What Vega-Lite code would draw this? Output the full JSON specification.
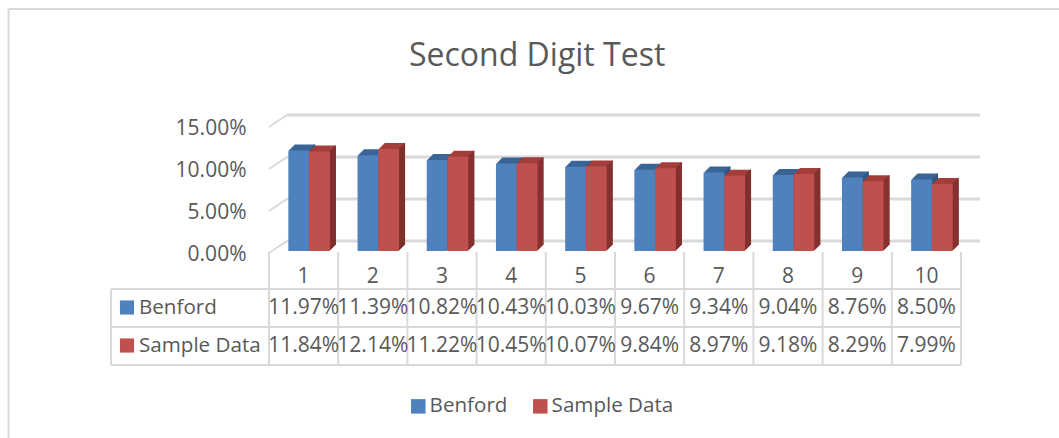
{"$schema":"https://vega.github.io/schema/vega-lite/v6.json","width":692,"height":126,"autosize":{"type":"none"},"padding":{"left":269,"top":125,"right":98,"bottom":187},"background":"white","config":{"view":{"stroke":null},"font":"Open Sans"},
"title":{"text":"Second Digit Test","anchor":"start","frame":"group","dx":140,"offset":-65,"fontSize":32,"fontWeight":"normal","font":"Open Sans","color":"#595959"},
"datasets":{"rows":[{"digit":1,"series":"Benford","value":0.1197},{"digit":2,"series":"Benford","value":0.1139},{"digit":3,"series":"Benford","value":0.1082},{"digit":4,"series":"Benford","value":0.1043},{"digit":5,"series":"Benford","value":0.1003},{"digit":6,"series":"Benford","value":0.0967},{"digit":7,"series":"Benford","value":0.0934},{"digit":8,"series":"Benford","value":0.0904},{"digit":9,"series":"Benford","value":0.0876},{"digit":10,"series":"Benford","value":0.085},{"digit":1,"series":"Sample Data","value":0.1184},{"digit":2,"series":"Sample Data","value":0.1214},{"digit":3,"series":"Sample Data","value":0.1122},{"digit":4,"series":"Sample Data","value":0.1045},{"digit":5,"series":"Sample Data","value":0.1007},{"digit":6,"series":"Sample Data","value":0.0984},{"digit":7,"series":"Sample Data","value":0.0897},{"digit":8,"series":"Sample Data","value":0.0918},{"digit":9,"series":"Sample Data","value":0.0829},{"digit":10,"series":"Sample Data","value":0.0799}],"ticks":[{"tick":0},{"tick":0.05},{"tick":0.1},{"tick":0.15}],"names":[{"series":"Benford"},{"series":"Sample Data"}],"one":[{"id":1}]},
"data":{"name":"rows"},
"encoding":{"x":{"field":"digit","type":"ordinal","scale":{"paddingInner":0.4,"paddingOuter":0.2},"axis":{"title":null,"labelAngle":0,"ticks":false,"domain":false,"labelPadding":14,"labelFontSize":21,"labelColor":"#595959","labelFont":"Open Sans","grid":false}}},
"resolve":{"scale":{"y":"independent"}},
"layer":[
{"data":{"name":"one"},"mark":{"type":"rule","color":"#d9d9d9","strokeWidth":2},"encoding":{"x":{"value":-260.5},"x2":{"value":790},"y":{"value":-116}}},
{"data":{"name":"one"},"mark":{"type":"rule","color":"#d9d9d9","strokeWidth":2},"encoding":{"x":{"value":-260.5},"y":{"value":-116},"y2":{"value":313}}},
{"layer":[
{"data":{"name":"ticks"},"mark":{"type":"rule","color":"#d9d9d9","strokeWidth":3,"yOffset":-10,"y2Offset":-10},"encoding":{"x":{"value":18},"x2":{"value":711},"y":{"field":"tick","type":"quantitative","scale":{"domain":[0,0.15]},"axis":{"format":".2%","values":[0,0.05,0.1,0.15],"title":null,"ticks":false,"domain":false,"grid":false,"labelPadding":23,"labelFontSize":21,"labelColor":"#595959","labelFont":"Open Sans","labelOffset":3}}}},
{"data":{"name":"ticks"},"mark":{"type":"rule","color":"#d9d9d9","strokeWidth":2,"yOffset":2,"y2Offset":-10},"encoding":{"x":{"value":0},"x2":{"value":18},"y":{"field":"tick","type":"quantitative","scale":{"domain":[0,0.15]}},"y2":{"field":"tick"}}},
{"transform":[{"filter":"datum.series==='Benford'"}],"encoding":{"y":{"field":"value","type":"quantitative","scale":{"domain":[0,0.15]}},"y2":{"datum":0}},"layer":[
{"mark":{"type":"bar","width":20.75,"color":"#3b6496","xOffset":1.125,"yOffset":-6,"y2Offset":-6}},
{"mark":{"type":"bar","width":20.75,"color":"#3b6496","xOffset":0.125,"yOffset":-5,"y2Offset":-5}},
{"mark":{"type":"bar","width":20.75,"color":"#3b6496","xOffset":-0.875,"yOffset":-4,"y2Offset":-4}},
{"mark":{"type":"bar","width":20.75,"color":"#3b6496","xOffset":-1.875,"yOffset":-3,"y2Offset":-3}},
{"mark":{"type":"bar","width":20.75,"color":"#3b6496","xOffset":-2.875,"yOffset":-2,"y2Offset":-2}},
{"mark":{"type":"bar","width":20.75,"color":"#3b6496","xOffset":-3.875,"yOffset":-1,"y2Offset":-1}},
{"mark":{"type":"rule","color":"#2f5482","strokeWidth":1,"xOffset":6,"yOffset":-1,"y2Offset":-1}},
{"mark":{"type":"rule","color":"#2f5482","strokeWidth":1,"xOffset":7,"yOffset":-2,"y2Offset":-2}},
{"mark":{"type":"rule","color":"#2f5482","strokeWidth":1,"xOffset":8,"yOffset":-3,"y2Offset":-3}},
{"mark":{"type":"rule","color":"#2f5482","strokeWidth":1,"xOffset":9,"yOffset":-4,"y2Offset":-4}},
{"mark":{"type":"rule","color":"#2f5482","strokeWidth":1,"xOffset":10,"yOffset":-5,"y2Offset":-5}},
{"mark":{"type":"rule","color":"#2f5482","strokeWidth":1,"xOffset":11,"yOffset":-6,"y2Offset":-6}},
{"mark":{"type":"bar","width":20.75,"xOffset":-4.875},"encoding":{"color":{"field":"series","type":"nominal","scale":{"domain":["Benford","Sample Data"],"range":["#4f81bd","#c0504d"]},"legend":{"title":null,"orient":"none","direction":"horizontal","legendX":139,"legendY":271,"symbolType":"square","symbolSize":210,"symbolStrokeWidth":0,"labelFontSize":20.6,"labelColor":"#595959","labelFont":"Open Sans","columnPadding":22,"labelOffset":1}}}}
]},
{"transform":[{"filter":"datum.series==='Sample Data'"}],"encoding":{"y":{"field":"value","type":"quantitative","scale":{"domain":[0,0.15]}},"y2":{"datum":0}},"layer":[
{"mark":{"type":"bar","width":20.75,"color":"#a33e3a","xOffset":21.875,"yOffset":-6,"y2Offset":-6}},
{"mark":{"type":"bar","width":20.75,"color":"#a33e3a","xOffset":20.875,"yOffset":-5,"y2Offset":-5}},
{"mark":{"type":"bar","width":20.75,"color":"#a33e3a","xOffset":19.875,"yOffset":-4,"y2Offset":-4}},
{"mark":{"type":"bar","width":20.75,"color":"#a33e3a","xOffset":18.875,"yOffset":-3,"y2Offset":-3}},
{"mark":{"type":"bar","width":20.75,"color":"#a33e3a","xOffset":17.875,"yOffset":-2,"y2Offset":-2}},
{"mark":{"type":"bar","width":20.75,"color":"#a33e3a","xOffset":16.875,"yOffset":-1,"y2Offset":-1}},
{"mark":{"type":"rule","color":"#7d2f2d","strokeWidth":1,"xOffset":26.75,"yOffset":-1,"y2Offset":-1}},
{"mark":{"type":"rule","color":"#7d2f2d","strokeWidth":1,"xOffset":27.75,"yOffset":-2,"y2Offset":-2}},
{"mark":{"type":"rule","color":"#7d2f2d","strokeWidth":1,"xOffset":28.75,"yOffset":-3,"y2Offset":-3}},
{"mark":{"type":"rule","color":"#7d2f2d","strokeWidth":1,"xOffset":29.75,"yOffset":-4,"y2Offset":-4}},
{"mark":{"type":"rule","color":"#7d2f2d","strokeWidth":1,"xOffset":30.75,"yOffset":-5,"y2Offset":-5}},
{"mark":{"type":"rule","color":"#7d2f2d","strokeWidth":1,"xOffset":31.75,"yOffset":-6,"y2Offset":-6}},
{"mark":{"type":"bar","width":20.75,"xOffset":15.875},"encoding":{"color":{"field":"series","type":"nominal"}}}
]}
]},
{"data":{"name":"one"},"mark":{"type":"rule","color":"#d9d9d9","strokeWidth":2},"encoding":{"x":{"value":-158},"x2":{"value":692},"y":{"value":164}}},
{"data":{"name":"one"},"mark":{"type":"rule","color":"#d9d9d9","strokeWidth":2},"encoding":{"x":{"value":-158},"x2":{"value":692},"y":{"value":202}}},
{"data":{"name":"one"},"mark":{"type":"rule","color":"#d9d9d9","strokeWidth":2},"encoding":{"x":{"value":-158},"x2":{"value":692},"y":{"value":240}}},
{"data":{"name":"one"},"mark":{"type":"rule","color":"#d9d9d9","strokeWidth":2},"encoding":{"x":{"value":-158},"y":{"value":164},"y2":{"value":240}}},
{"transform":[{"filter":"datum.series==='Benford'"}],"mark":{"type":"rule","color":"#d9d9d9","strokeWidth":2,"xOffset":-34.6},"encoding":{"y":{"value":127},"y2":{"value":240}}},
{"transform":[{"filter":"datum.series==='Benford' && datum.digit===10"}],"mark":{"type":"rule","color":"#d9d9d9","strokeWidth":2,"xOffset":34.6},"encoding":{"y":{"value":127},"y2":{"value":240}}},
{"encoding":{"y":{"field":"series","type":"nominal","scale":{"type":"point","padding":0,"domain":["Benford","Sample Data"],"range":[182.5,220.5]},"axis":null}},"layer":[
{"mark":{"type":"text","fontSize":21,"font":"Open Sans","color":"#595959"},"encoding":{"text":{"field":"value","type":"quantitative","format":".2%"}}},
{"data":{"name":"names"},"mark":{"type":"text","fontSize":20.6,"font":"Open Sans","color":"#595959","align":"left"},"encoding":{"x":{"value":-130},"text":{"field":"series","type":"nominal"}}},
{"data":{"name":"names"},"mark":{"type":"point","shape":"square","filled":true,"size":200,"opacity":1},"encoding":{"x":{"value":-142},"color":{"field":"series","type":"nominal"}}}
]}
]}
